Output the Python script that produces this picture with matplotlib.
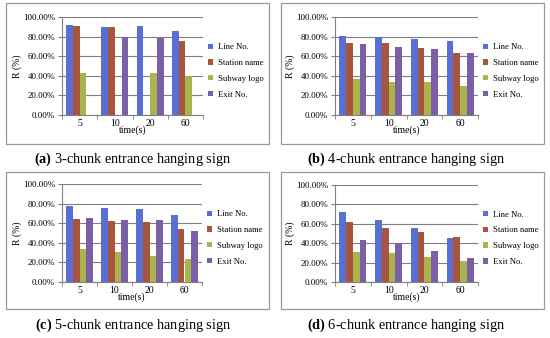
import numpy as np
import matplotlib
matplotlib.use('Agg')
import matplotlib.pyplot as plt
from matplotlib.patches import Rectangle
from matplotlib.ticker import FixedLocator

plt.rcParams['font.family'] = ['Liberation Serif', 'DejaVu Serif']
plt.rcParams['mathtext.fontset'] = 'custom'
plt.rcParams['mathtext.bf'] = 'Liberation Serif:bold'
plt.rcParams['mathtext.rm'] = 'Liberation Serif'

times = ['5', '10', '20', '60']
series = ['Line No.', 'Station name', 'Subway logo', 'Exit No.']
colors = ['#5a6fd3', '#a8553f', '#a9b54c', '#7a5fa6']
nan = np.nan

# R (%) per panel, per series, per time
a_line    = [92, 90, 91, 86]
a_station = [91, 90, nan, 76]
a_logo    = [43, nan, 43, 40]
a_exit    = [nan, 80, 79, nan]

b_line    = [81, 80, 78, 76]
b_station = [73, 73, 68, 63]
b_logo    = [37, 34, 34, 29.5]
b_exit    = [72, 69, 67, 63]

c_line    = [78, 76, 74, 68]
c_station = [64, 62, 61, 54]
c_logo    = [34, 31, 27, 23]
c_exit    = [65, 63, 63, 52]

d_line    = [72, 64, 56, 45]
d_station = [62, 56, 52, 46]
d_logo    = [31, 30, 26, 22]
d_exit    = [43, 40, 32, 25]

panels = [
    ('a', '3-chunk entrance hanging sign', [a_line, a_station, a_logo, a_exit]),
    ('b', '4-chunk entrance hanging sign', [b_line, b_station, b_logo, b_exit]),
    ('c', '5-chunk entrance hanging sign', [c_line, c_station, c_logo, c_exit]),
    ('d', '6-chunk entrance hanging sign', [d_line, d_station, d_logo, d_exit]),
]

W, H = 550, 338
fig = plt.figure(figsize=(5.5, 3.38), dpi=100)

# pixel layout: box x0, y0, x1, y1, plot x0, y0, x1, y1, caption x, caption y
layout = [
    (6, 3, 269, 144, 62, 17, 203, 115, 133, 159),
    (281, 3, 544, 144, 335, 17, 478, 115, 406, 159),
    (6, 172, 269, 309, 62, 184, 202, 282, 133, 325),
    (281, 172, 544, 309, 335, 185, 478, 282, 406, 325),
]

for (tag, caption, data), L in zip(panels, layout):
    bx0, by0, bx1, by1, px0, py0, px1, py1, cx, cy = L
    fig.patches.append(Rectangle((bx0 / W, 1 - by1 / H), (bx1 - bx0) / W, (by1 - by0) / H,
                                 transform=fig.transFigure, fill=False,
                                 edgecolor='#9a9a9a', linewidth=0.9))
    ax = fig.add_axes([px0 / W, 1 - py1 / H, (px1 - px0) / W, (py1 - py0) / H])
    x = np.arange(len(times))
    bw = 0.19
    for k, (name, vals) in enumerate(zip(series, data)):
        ax.bar(x + (k - 1.5) * bw, np.array(vals, dtype=float), bw,
               color=colors[k], label=name, zorder=3)
    ax.set_xlim(-0.5, 3.5)
    ax.set_ylim(0, 100)
    ax.set_yticks(np.arange(0, 101, 20))
    ax.set_yticklabels(['%.2f%%' % v for v in np.arange(0, 101, 20)], fontsize=6.5)
    ax.yaxis.grid(True, color='#7f7f7f', linewidth=0.8, zorder=0)
    ax.set_xticks(x)
    ax.set_xticklabels(times, fontsize=7)
    ax.xaxis.set_minor_locator(FixedLocator([-0.5, 0.5, 1.5, 2.5, 3.5]))
    ax.tick_params(axis='x', which='major', length=0, pad=3)
    ax.tick_params(axis='x', which='minor', length=3, color='#7f7f7f')
    ax.tick_params(axis='y', length=3, color='#7f7f7f', pad=2)
    for s in ['top', 'right']:
        ax.spines[s].set_visible(False)
    for s in ['left', 'bottom']:
        ax.spines[s].set_color('#7f7f7f')
        ax.spines[s].set_linewidth(0.8)
    ax.set_xlabel('time(s)', fontsize=7, labelpad=-2)
    ax.set_ylabel('R (%)', fontsize=7, labelpad=1)
    ax.legend(loc='center left', bbox_to_anchor=(1.0, 0.45), frameon=False,
              fontsize=6.2, handlelength=0.6, handleheight=0.6, handletextpad=0.5,
              labelspacing=0.9, borderaxespad=0.2)
    fig.text(cx / W, 1 - cy / H, r'$\bf{(' + tag + ')}$ ' + caption, fontsize=10.3,
             ha='center', va='center')

fig.savefig('out.png', dpi=100)
